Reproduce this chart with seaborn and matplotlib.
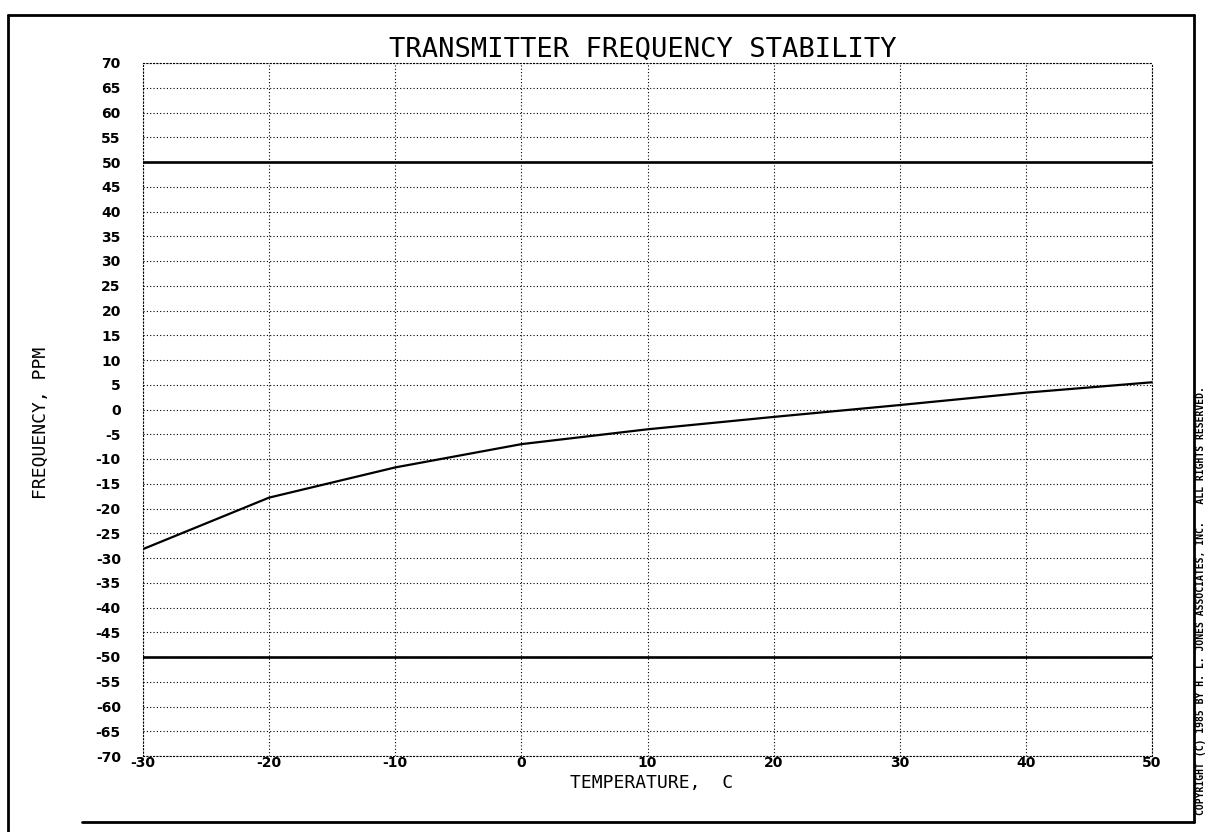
import matplotlib
matplotlib.use("Agg")
import matplotlib.pyplot as plt
from matplotlib.lines import Line2D
import pandas as pd
import seaborn as sns

# ---- data ----
temperature_c = [-30, -20, -10, 0, 10, 20, 30, 40, 50]
frequency_ppm = [-28.2, -17.8, -11.7, -7.0, -4.0, -1.5, 0.9, 3.4, 5.5]
limit_temps = [-30, 50]
upper_limit_ppm = [50, 50]
lower_limit_ppm = [-50, -50]
x_ticks = [-30, -20, -10, 0, 10, 20, 30, 40, 50]
y_ticks = [-70, -65, -60, -55, -50, -45, -40, -35, -30, -25, -20, -15, -10, -5,
           0, 5, 10, 15, 20, 25, 30, 35, 40, 45, 50, 55, 60, 65, 70]
title_text = "TRANSMITTER FREQUENCY STABILITY"
x_label = "TEMPERATURE,  C"
y_label = "FREQUENCY, PPM"
side_note = "COPYRIGHT (C) 1985 BY H. L. JONES ASSOCIATES, INC.   ALL RIGHTS RESERVED."

sns.set_theme(style="white")
plt.rcParams["font.family"] = ["DejaVu Sans Mono", "DejaVu Sans"]
plt.rcParams.update({"text.color": "black", "axes.labelcolor": "black",
                     "xtick.color": "black", "ytick.color": "black",
                     "axes.unicode_minus": False})

W, H = 1207, 832
fig = plt.figure(figsize=(W / 100, H / 100), dpi=100)
fig.patch.set_facecolor("white")
ax = fig.add_axes([143 / W, 1 - 756 / H, (1152 - 143) / W, (756 - 63) / H])

curve = pd.DataFrame({"Temperature": temperature_c, "Frequency": frequency_ppm})
limits = pd.DataFrame({
    "Temperature": limit_temps + limit_temps,
    "Frequency": upper_limit_ppm + lower_limit_ppm,
    "Limit": ["upper"] * len(limit_temps) + ["lower"] * len(limit_temps),
})

sns.lineplot(data=limits, x="Temperature", y="Frequency", units="Limit",
             estimator=None, color="black", linewidth=1.9, ax=ax, zorder=3)
sns.lineplot(data=curve, x="Temperature", y="Frequency", color="black",
             linewidth=1.6, ax=ax, zorder=4)

ax.set_xlim(-30, 50)
ax.set_ylim(-70, 70)
ax.set_xticks(x_ticks)
ax.set_yticks(y_ticks)
ax.grid(True, color="black", linestyle=(0, (1, 2)), linewidth=0.8)
for sp in ax.spines.values():
    sp.set_visible(True)
    sp.set_color("black")
    sp.set_linewidth(0.8)
    sp.set_linestyle((0, (1, 2)))

ax.tick_params(axis="both", length=0, labelsize=10)
ax.tick_params(axis="y", pad=16)
ax.tick_params(axis="x", pad=0)
for lbl in ax.get_xticklabels() + ax.get_yticklabels():
    lbl.set_fontfamily("DejaVu Sans")
    lbl.set_fontweight("bold")

ax.set_xlabel(x_label, fontsize=13, va="baseline")
ax.xaxis.set_label_coords((652 - 143) / (1152 - 143), (756 - 788) / (756 - 63))
ax.set_ylabel(y_label, fontsize=13)
ax.yaxis.set_label_coords((50 - 143) / (1152 - 143), (756 - 423) / (756 - 63))

fig.text(643 / W, 1 - 57 / H, title_text, fontsize=19.5, ha="center", va="baseline")

# outer frame of the scanned sheet
frame_kw = dict(transform=fig.transFigure, color="black", linewidth=2)
fig.add_artist(Line2D([8 / W, 8 / W], [0, 1 - 15 / H], **frame_kw))
fig.add_artist(Line2D([8 / W, 1194 / W], [1 - 15 / H, 1 - 15 / H], **frame_kw))
fig.add_artist(Line2D([1194 / W, 1194 / W], [1 - 15 / H, 1 - 822 / H], **frame_kw))
fig.add_artist(Line2D([82 / W, 1194 / W], [1 - 822 / H, 1 - 822 / H], **frame_kw))

fig.text(1196 / W, 1 - 815 / H, side_note, rotation=90, ha="left", va="bottom",
         fontsize=7, fontweight="bold", family="DejaVu Sans Mono")

fig.savefig("out.png", dpi=100, facecolor="white")
